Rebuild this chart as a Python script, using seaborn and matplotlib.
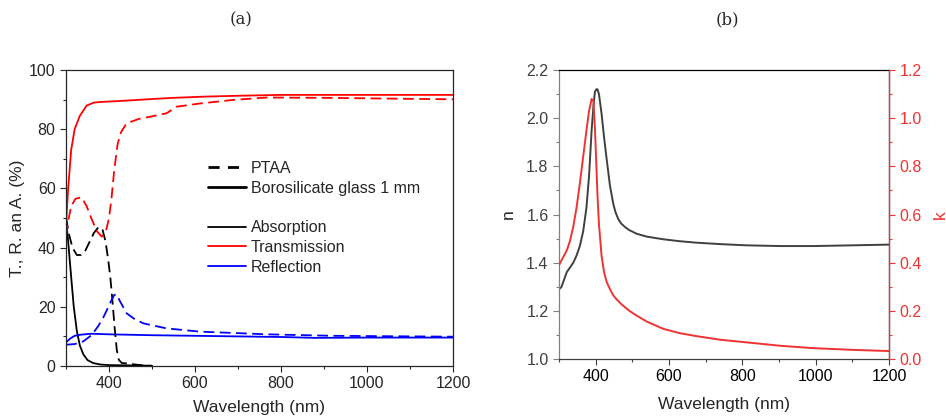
import matplotlib
matplotlib.use("Agg")
import matplotlib.pyplot as plt
from matplotlib.lines import Line2D
from matplotlib.ticker import MultipleLocator, FormatStrFormatter
import pandas as pd
import seaborn as sns

# ---- (a) glass, 1 mm borosilicate
glass_T_wl = [300, 305, 312, 320, 332, 348, 365, 380, 420, 456, 500, 550, 620, 700, 800, 1000, 1200]
glass_T = [48, 60, 73, 80, 84.5, 88, 89, 89.2, 89.5, 89.8, 90.2, 90.6, 91, 91.3, 91.6, 91.6, 91.6]

glass_A_wl = [300, 305, 312, 318, 325, 332, 340, 350, 363, 380, 400, 450, 500]
glass_A = [50, 42, 30, 20, 12, 7, 4, 2, 1, 0.5, 0.3, 0.2, 0.1]

glass_R_wl = [300, 310, 320, 335, 360, 400, 500, 600, 700, 800, 880, 1000, 1200]
glass_R = [8, 9.3, 10.2, 10.6, 10.9, 10.7, 10.4, 10.2, 10.0, 9.8, 9.5, 9.6, 9.6]

# ---- (a) PTAA
ptaa_T_wl = [300, 305, 312, 322, 336, 348, 360, 372, 383, 392, 400, 406, 412, 420, 428, 441,
             470, 495, 534, 557, 612, 689, 767, 900, 1200]
ptaa_T = [44, 49, 54, 56.5, 57, 54, 49.5, 45.5, 43.7, 45, 50, 57, 66, 75, 79, 82,
          83.5, 84.2, 85.4, 87.6, 88.7, 89.9, 90.7, 90.6, 90.1]

ptaa_A_wl = [300, 306, 315, 325, 335, 345, 355, 365, 376, 385, 392, 398, 403, 408, 413, 418,
             423, 430, 450, 460, 480, 500]
ptaa_A = [50, 45, 40, 37.5, 37.5, 39, 42, 45, 47, 46, 42, 36, 30, 22, 13, 5.5,
          2, 1, 0.8, 0.5, 0.2, 0]

ptaa_R_wl = [300, 320, 340, 360, 375, 387, 397, 405, 412, 418, 425, 441, 460, 480, 534, 612,
             700, 767, 922, 1200]
ptaa_R = [7.2, 7.4, 8.3, 10.5, 13.5, 16.5, 19.5, 22, 24, 24.2, 22, 17.8, 15.8, 14.4, 12.7, 11.6,
          11.1, 10.7, 10.2, 9.9]

# ---- (b) optical constants
nk_wl = [300, 307, 314, 321, 330, 339, 348, 357, 366, 375, 382, 389, 394, 398, 402, 405, 409,
         416, 423, 430, 439, 448, 454, 462, 470, 480, 492, 512, 540, 585, 630, 675, 740, 812,
         903, 994, 1100, 1200]
n_vals = [1.289, 1.30, 1.33, 1.36, 1.38, 1.40, 1.43, 1.47, 1.53, 1.63, 1.76, 1.95, 2.05, 2.11,
          2.12, 2.12, 2.10, 2.02, 1.92, 1.83, 1.72, 1.645, 1.61, 1.58, 1.562, 1.548, 1.535,
          1.52, 1.508, 1.497, 1.489, 1.483, 1.477, 1.472, 1.469, 1.469, 1.472, 1.475]
k_vals = [0.39, 0.41, 0.43, 0.45, 0.49, 0.55, 0.63, 0.73, 0.84, 0.95, 1.03, 1.08, 1.07, 0.96,
          0.80, 0.68, 0.56, 0.43, 0.36, 0.32, 0.29, 0.265, 0.253, 0.24, 0.228, 0.215, 0.2,
          0.18, 0.155, 0.125, 0.107, 0.095, 0.08, 0.069, 0.055, 0.045, 0.038, 0.033]

sns.set_style("ticks")
plt.rcParams["font.family"] = ["Liberation Sans", "DejaVu Sans"]
plt.rcParams["xtick.direction"] = "out"
plt.rcParams["ytick.direction"] = "out"

fig = plt.figure(figsize=(9.46, 4.19), dpi=100)
ax1 = fig.add_axes([0.0698, 0.1265, 0.409, 0.7064])
ax2 = fig.add_axes([0.5909, 0.1432, 0.3488, 0.6897])

lw = 1.3
dash = (6, 3)

def curve(ax, wl, vals, color, dashed=False):
    df = pd.DataFrame({"wl": wl, "v": vals})
    sns.lineplot(data=df, x="wl", y="v", ax=ax, color=color, lw=lw)
    if dashed:
        ax.lines[-1].set_dashes(dash)

curve(ax1, glass_A_wl, glass_A, "black")
curve(ax1, glass_R_wl, glass_R, "#0000ff")
curve(ax1, glass_T_wl, glass_T, "#ff0000")
curve(ax1, ptaa_A_wl, ptaa_A, "black", dashed=True)
curve(ax1, ptaa_R_wl, ptaa_R, "#0000ff", dashed=True)
curve(ax1, ptaa_T_wl, ptaa_T, "#ff0000", dashed=True)

ax1.set_xlim(300, 1200)
ax1.set_ylim(0, 100)
ax1.xaxis.set_major_locator(MultipleLocator(200))
ax1.xaxis.set_minor_locator(MultipleLocator(100))
ax1.yaxis.set_major_locator(MultipleLocator(20))
ax1.yaxis.set_minor_locator(MultipleLocator(10))
ax1.tick_params(which="major", length=4.5, width=0.8, labelsize=11.5, pad=3)
ax1.tick_params(which="minor", length=2.5, width=0.8)
for s in ax1.spines.values():
    s.set_visible(True)
    s.set_linewidth(0.9)
ax1.set_xlabel("Wavelength (nm)", fontsize=12.5)
ax1.set_ylabel("T., R. an A. (%)", fontsize=12.5)
ax1.xaxis.set_label_coords(0.5, -0.115)
ax1.yaxis.set_label_coords(-0.106, 0.5)

handles = [
    Line2D([], [], color="black", lw=2, dashes=(4, 3), label="PTAA"),
    Line2D([], [], color="black", lw=2, label="Borosilicate glass 1 mm"),
    Line2D([], [], color="none", label=" "),
    Line2D([], [], color="black", lw=1.3, label="Absorption"),
    Line2D([], [], color="#ff0000", lw=1.3, label="Transmission"),
    Line2D([], [], color="#0000ff", lw=1.3, label="Reflection"),
]
ax1.legend(handles=handles, loc="upper left", bbox_to_anchor=(0.35, 0.715), frameon=False,
           fontsize=11.5, handlelength=2.4, handletextpad=0.3, labelspacing=0.3,
           borderaxespad=0)

# ---- (b)
n_col = "#404040"
k_col = "#ee3333"
df_nk = pd.DataFrame({"wl": nk_wl, "n": n_vals, "k": k_vals})
sns.lineplot(data=df_nk, x="wl", y="n", ax=ax2, color=n_col, lw=1.4)
ax2.set_xlim(300, 1200)
ax2.set_ylim(1.0, 2.2)
ax3 = ax2.twinx()
sns.lineplot(data=df_nk, x="wl", y="k", ax=ax3, color=k_col, lw=1.4)
ax3.set_ylim(0, 1.2)

ax2.xaxis.set_major_locator(MultipleLocator(200))
ax2.xaxis.set_minor_locator(MultipleLocator(100))
ax2.yaxis.set_major_locator(MultipleLocator(0.2))
ax2.yaxis.set_minor_locator(MultipleLocator(0.1))
ax3.yaxis.set_major_locator(MultipleLocator(0.2))
ax3.yaxis.set_minor_locator(MultipleLocator(0.1))
ax2.yaxis.set_major_formatter(FormatStrFormatter("%.1f"))
ax3.yaxis.set_major_formatter(FormatStrFormatter("%.1f"))

ax2.tick_params(which="major", length=4.5, width=0.8, labelsize=11.5, pad=3)
ax2.tick_params(which="minor", length=2.5, width=0.8)
ax2.tick_params(axis="y", which="both", colors="#808080", labelcolor=n_col)
ax2.tick_params(axis="x", which="both", colors="#404040", labelcolor="black")
ax3.tick_params(which="major", length=4.5, width=0.8, labelsize=11.5, pad=3,
                colors=k_col)
ax3.tick_params(which="minor", length=2.5, width=0.8, colors=k_col)
for s in ax2.spines.values():
    s.set_visible(True)
    s.set_linewidth(0.9)
ax2.spines["left"].set_color("#808080")
ax2.spines["bottom"].set_color("#404040")
ax2.spines["top"].set_color("black")
ax3.spines["right"].set_visible(True)
ax3.spines["right"].set_color(k_col)
ax3.spines["right"].set_linewidth(0.9)
ax3.spines["left"].set_visible(False)
ax3.spines["top"].set_visible(False)
ax3.spines["bottom"].set_visible(False)

ax2.set_xlabel("Wavelength (nm)", fontsize=12.5)
ax2.set_ylabel("n", fontsize=12.5)
ax3.set_ylabel("k", fontsize=12.5, color=k_col)
ax2.xaxis.set_label_coords(0.5, -0.131)
ax2.yaxis.set_label_coords(-0.13, 0.5)
ax3.yaxis.set_label_coords(1.133, 0.5)

fig.text(0.2548, 0.952, "(a)", ha="center", va="center", fontsize=12,
         family=["DejaVu Serif"])
fig.text(0.7685, 0.952, "(b)", ha="center", va="center", fontsize=12,
         family=["DejaVu Serif"])

fig.savefig("out.png", dpi=100)
